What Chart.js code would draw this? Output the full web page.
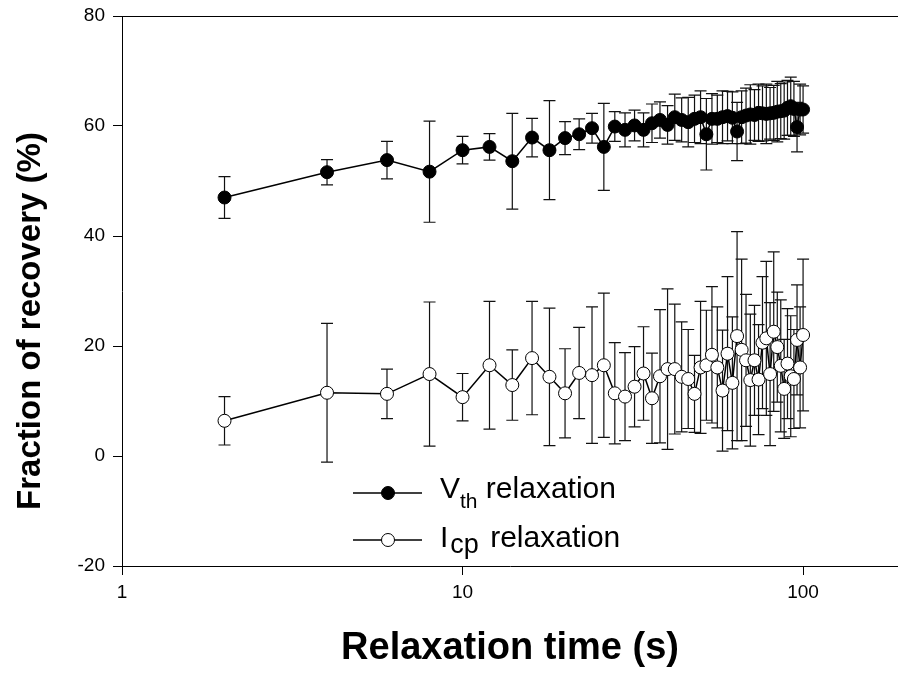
<!DOCTYPE html>
<html><head><meta charset="utf-8">
<script src="https://cdn.jsdelivr.net/npm/chart.js@4.4.0/dist/chart.umd.min.js"></script>
<style>html,body{margin:0;padding:0;background:#fff;overflow:hidden;}canvas{display:block;}</style>
</head><body><canvas id="c" width="898" height="675" style="width:898px;height:675px"></canvas>
<script>
const times = [2,4,6,8,10,12,14,16,18,20,22,24,26,28,30,32,34,36,38,40,42,44,46,48,50,52,54,56,58,60,62,64,66,68,70,72,74,76,78,80,82,84,86,88,90,92,94,96,98,100];
const vthValues = [47.0,51.6,53.8,51.7,55.6,56.2,53.6,57.9,55.6,57.8,58.5,59.6,56.2,59.9,59.3,60.1,59.3,60.5,61.1,60.2,61.6,61.1,60.7,61.3,61.6,58.5,61.3,61.3,61.6,61.8,61.5,59.0,61.6,61.9,62.1,62.0,62.4,62.3,62.2,62.3,62.4,62.6,62.7,62.8,63.3,63.6,63.1,59.8,63.0,63.0];
const vthErrors = [3.8,2.3,3.4,9.2,2.5,2.4,8.7,3.5,9.0,3.0,2.8,2.7,7.9,2.7,3.1,2.8,3.1,3.5,3.3,3.5,4.2,4.0,4.5,4.3,4.8,6.5,4.6,4.3,4.8,4.5,4.7,5.3,4.8,5.0,5.4,4.6,5.2,5.0,5.4,4.7,5.0,5.5,5.0,5.2,5.0,5.3,5.0,4.5,4.6,4.3];
const icpValues = [6.4,11.5,11.3,14.9,10.7,16.5,12.9,17.8,14.4,11.4,15.1,14.7,16.5,11.4,10.8,12.6,15.0,10.5,14.5,15.8,15.8,14.4,14.0,11.3,16.1,16.5,18.4,16.1,11.9,18.6,13.3,21.8,19.3,17.4,13.8,17.4,13.9,20.6,21.4,14.9,22.6,19.8,16.4,12.2,16.8,14.5,14.0,21.1,16.1,22.0];
const icpErrors = [4.4,12.6,4.5,13.1,4.3,11.6,6.4,10.3,12.5,8.1,8.3,12.4,13.1,9.2,8.0,7.3,8.5,8.2,12.1,14.6,11.8,10.0,9.0,7.0,12.0,10.0,12.4,11.0,11.0,14.0,12.0,19.0,16.5,12.0,12.0,10.0,10.0,12.0,14.0,13.0,14.5,10.0,12.0,9.0,10.0,11.0,9.0,10.0,11.0,13.8];
const xTicks = [1,10,100];
const yTicks = [-20,0,20,40,60,80];
const seriesNames = [["V","th"," relaxation"],["I","cp"," relaxation"]];
const xTitle = 'Relaxation time (s)';
const yTitle = 'Fraction of recovery (%)';

const FONT = '"Liberation Sans", Arial, sans-serif';
const errs = [vthErrors, icpErrors];

const frame = {
  id:'frame',
  afterDraw(chart){
    const {ctx, chartArea:a} = chart;
    ctx.save(); ctx.strokeStyle='#000'; ctx.lineWidth=1;
    ctx.beginPath(); ctx.moveTo(a.left, a.top+0.5); ctx.lineTo(chart.width, a.top+0.5); ctx.stroke();
    ctx.translate(31, 321); ctx.rotate(-Math.PI/2);
    ctx.fillStyle='#000'; ctx.font='bold 33px '+FONT; ctx.textAlign='center'; ctx.textBaseline='middle';
    ctx.fillText(yTitle, 0, 0);
    ctx.restore();
  }
};
const errorBars = {
  id:'errorBars',
  beforeDatasetsDraw(chart){
    const {ctx} = chart, xs = chart.scales.x, ys = chart.scales.y;
    ctx.save(); ctx.strokeStyle='#111'; ctx.lineWidth=1.2;
    chart.data.datasets.forEach((ds,i)=>{
      ds.data.forEach((p,j)=>{
        const e = errs[i][j];
        const px = xs.getPixelForValue(p.x);
        const t = ys.getPixelForValue(p.y+e), b = ys.getPixelForValue(p.y-e);
        ctx.beginPath();
        ctx.moveTo(px,t); ctx.lineTo(px,b);
        ctx.moveTo(px-6,t); ctx.lineTo(px+6,t);
        ctx.moveTo(px-6,b); ctx.lineTo(px+6,b);
        ctx.stroke();
      });
    });
    ctx.restore();
  }
};
const subLegend = {
  id:'subLegend',
  afterDraw(chart){
    const {ctx} = chart;
    const rows = [{y:493, fill:'#000', subSize:21, subDy:10, gap1:0, gap2:0},{y:540, fill:'#fff', subSize:27, subDy:6, gap1:2, gap2:3}];
    ctx.save();
    rows.forEach((r,i)=>{
      ctx.strokeStyle='#000'; ctx.lineWidth=1.3;
      ctx.beginPath(); ctx.moveTo(353,r.y); ctx.lineTo(422,r.y); ctx.stroke();
      ctx.beginPath(); ctx.arc(388,r.y,6.5,0,Math.PI*2); ctx.fillStyle=r.fill; ctx.fill(); ctx.lineWidth=1; ctx.stroke();
      const [m,s,rest] = seriesNames[i];
      ctx.fillStyle='#000'; ctx.textBaseline='alphabetic'; ctx.textAlign='left';
      let x = 440, base = r.y + 5 + (i===1?2:0);
      ctx.font = '30px '+FONT; ctx.fillText(m,x,base); x += ctx.measureText(m).width + r.gap1;
      ctx.font = r.subSize+'px '+FONT; ctx.fillText(s,x,base+r.subDy); x += ctx.measureText(s).width + r.gap2;
      ctx.font = '30px '+FONT; ctx.fillText(rest,x,base);
    });
    ctx.restore();
  }
};

new Chart(document.getElementById('c'), {
  type:'scatter',
  data:{datasets:[
    {label:'Vth relaxation', data: times.map((t,i)=>({x:t,y:vthValues[i]})), showLine:true,
     borderColor:'#000', borderWidth:1.5, pointRadius:6.5, pointBackgroundColor:'#000', pointBorderColor:'#000', pointBorderWidth:1},
    {label:'Icp relaxation', data: times.map((t,i)=>({x:t,y:icpValues[i]})), showLine:true,
     borderColor:'#000', borderWidth:1.5, pointRadius:6.5, pointBackgroundColor:'#fff', pointBorderColor:'#000', pointBorderWidth:1}
  ]},
  options:{
    responsive:false, animation:false, devicePixelRatio:1,
    layout:{autoPadding:false, padding:{top:16,right:0,left:0,bottom:0}},
    plugins:{legend:{display:false}, tooltip:{enabled:false}},
    scales:{
      x:{type:'logarithmic', min:1, max:190,
         afterBuildTicks:s=>{s.ticks = xTicks.map(v=>({value:v}));},
         afterFit:s=>{s.height=109; s.paddingRight=0; s.paddingLeft=0;},
         ticks:{color:'#000', font:{family:FONT,size:19}, padding:6, maxRotation:0, autoSkip:false, callback:v=>String(v)},
         grid:{drawOnChartArea:false, drawTicks:true, tickLength:9, color:'#000'},
         border:{display:true, color:'#000', width:1},
         title:{display:true, text:xTitle, color:'#000', font:{family:FONT,size:38,weight:'bold'}, padding:{top:0,bottom:4}}
      },
      y:{type:'linear', min:-20, max:80,
         afterBuildTicks:s=>{s.ticks = yTicks.map(v=>({value:v}));},
         afterFit:s=>{s.width=122; s.paddingTop=0; s.paddingBottom=0;},
         ticks:{color:'#000', font:{family:FONT,size:19}, padding:8},
         grid:{drawOnChartArea:false, drawTicks:true, tickLength:9, color:'#000'},
         border:{display:true, color:'#000', width:1},
         title:{display:false}
      }
    }
  },
  plugins:[frame, errorBars, subLegend]
});
</script></body></html>
